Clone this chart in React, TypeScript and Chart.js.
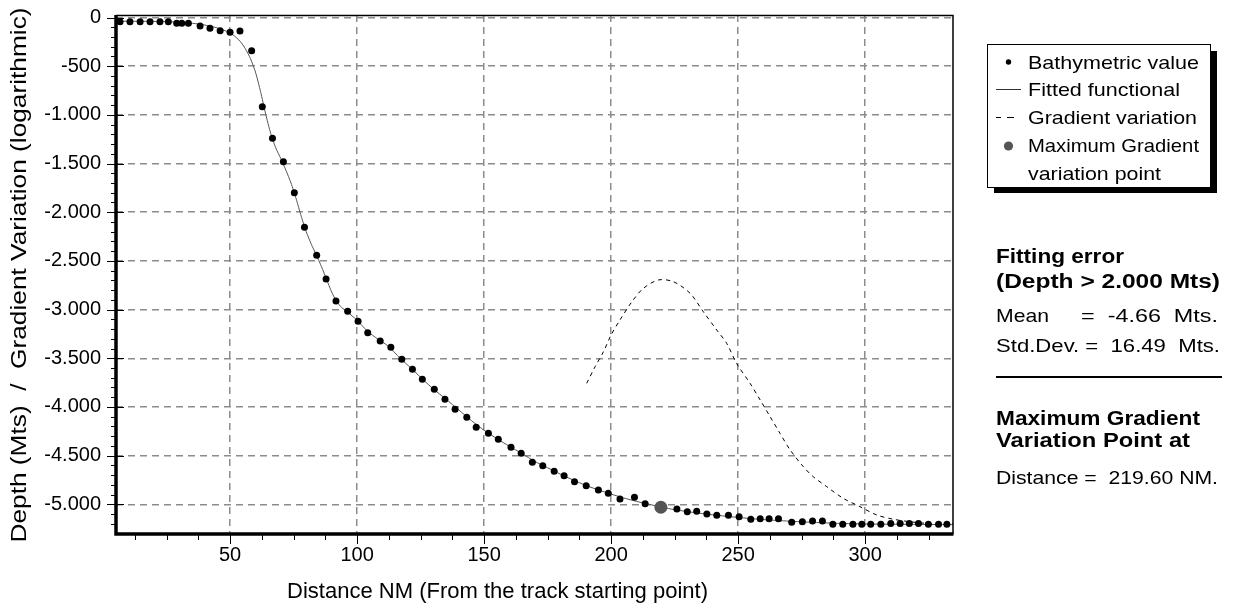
import React, { useEffect, useRef } from "react";
import { Chart, registerables } from "chart.js";

Chart.register(...registerables);

// ---------- data ----------
const bathyX = [6.7, 10.6, 14.6, 18.5, 22.4, 25.7, 29.0, 31.0, 33.6, 38.2, 42.1, 46.1, 50.0, 53.9, 58.5, 62.7, 66.7, 71.0, 75.3, 79.3, 84.1, 87.8, 91.7, 96.3, 100.4, 104.2, 109.1, 113.3, 117.6, 121.8, 125.7, 130.4, 134.6, 138.6, 143.2, 146.9, 151.7, 155.6, 160.6, 164.6, 169.0, 173.1, 177.6, 181.5, 185.6, 190.2, 195.0, 198.9, 203.5, 209.2, 213.4, 219.0, 225.9, 230.0, 233.7, 237.7, 241.6, 246.2, 250.4, 255.0, 258.7, 262.2, 265.9, 271.1, 275.3, 279.3, 283.2, 287.3, 291.2, 295.2, 298.7, 302.2, 306.2, 310.1, 313.8, 317.4, 321.0, 324.9, 328.9, 332.2];
const bathyY = [-43, -43, -43, -43, -43, -43, -60, -60, -60, -87, -111, -136, -152, -139, -341, -916, -1241, -1481, -1800, -2155, -2442, -2686, -2912, -3018, -3120, -3237, -3323, -3387, -3511, -3614, -3716, -3819, -3922, -4024, -4106, -4209, -4271, -4332, -4415, -4476, -4569, -4604, -4661, -4706, -4768, -4809, -4853, -4887, -4945, -4928, -4994, -5031, -5048, -5076, -5072, -5100, -5113, -5113, -5127, -5154, -5148, -5148, -5148, -5185, -5179, -5172, -5172, -5206, -5206, -5206, -5206, -5206, -5206, -5196, -5196, -5196, -5196, -5206, -5206, -5206];

const fitX = [5.1, 20, 30, 38, 44, 48, 51, 54, 56, 58, 60, 62, 64, 66, 68, 70, 72, 74, 76, 78, 80, 82, 84, 86, 88, 90, 92, 94, 96, 100, 104, 108, 112, 117, 122, 126, 130, 135, 140, 145, 150, 155, 160, 165, 170, 175, 180, 185, 190, 195, 200, 205, 210, 215, 220, 225, 230, 235, 240, 245, 250, 260, 270, 280, 290, 300, 315, 334.6];
const fitY = [-38, -40, -48, -68, -100, -135, -175, -245, -320, -420, -560, -760, -990, -1190, -1340, -1450, -1570, -1700, -1860, -2040, -2200, -2330, -2440, -2560, -2690, -2820, -2920, -2980, -3020, -3110, -3220, -3300, -3370, -3500, -3620, -3720, -3815, -3920, -4030, -4140, -4240, -4325, -4405, -4480, -4560, -4625, -4690, -4750, -4805, -4852, -4895, -4935, -4970, -5000, -5030, -5055, -5075, -5092, -5108, -5122, -5135, -5157, -5173, -5186, -5196, -5202, -5206, -5208];

const gradX = [190.4, 193.7, 197.0, 200.0, 203.5, 208.2, 212.7, 218.6, 224.5, 231.1, 236.3, 241.6, 245.5, 249.4, 254.7, 258.7, 262.6, 266.5, 270.5, 275.7, 279.6, 284.9, 291.4, 298.0, 304.6, 311.2, 317.7, 324.3, 334.6];
const gradY = [-3757, -3587, -3433, -3261, -3107, -2919, -2782, -2696, -2713, -2833, -3022, -3210, -3346, -3552, -3757, -3929, -4100, -4271, -4442, -4614, -4717, -4819, -4939, -5024, -5110, -5154, -5179, -5196, -5200];

const maxPointX = [219.6];
const maxPointY = [-5030];

const xTicks = [50, 100, 150, 200, 250, 300];
const yTicks = [0, -500, -1000, -1500, -2000, -2500, -3000, -3500, -4000, -4500, -5000];
const X_MIN = 5.1;
const X_MAX = 334.6;
const Y_MIN = -5305;
const Y_MAX = 25.7;

const xTitle = "Distance NM (From the track starting point)";
const yTitle = "Depth (Mts)  /  Gradient Variation (logarithmic)";
const legendLabels = ["Bathymetric value", "Fitted functional", "Gradient variation", "Maximum Gradient", "variation point"];
const fitTitle = ["Fitting error", "(Depth > 2.000 Mts)"];
const meanLabel = "Mean";
const meanRest = "=  -4.66  Mts.";
const stdLine = "Std.Dev. =  16.49  Mts.";
const maxTitle = ["Maximum Gradient", "Variation Point at"];
const distLine = "Distance =  219.60 NM.";

// ---------- helpers ----------
const FONT = "'Liberation Sans', Arial, sans-serif";

function fmt(v: number): string {
  const s = Math.abs(v).toString().replace(/\B(?=(\d{3})+(?!\d))/g, ".");
  return (v < 0 ? "-" : "") + s;
}

function fitText(ctx: CanvasRenderingContext2D, text: string, x: number, y: number, font: string, width: number | null, align: CanvasTextAlign = "left") {
  ctx.save();
  ctx.font = font;
  const w = ctx.measureText(text).width;
  const s = width ? width / w : 1;
  ctx.translate(x, y);
  ctx.scale(s, 1);
  ctx.textAlign = align;
  ctx.textBaseline = "alphabetic";
  ctx.fillStyle = "#000";
  ctx.fillText(text, 0, 0);
  ctx.restore();
}

const decorPlugin = {
  id: "decor",
  afterDraw(chart: any) {
    const ctx: CanvasRenderingContext2D = chart.ctx;
    const { left, right, top, bottom } = chart.chartArea;
    const xs = chart.scales.x;
    const ys = chart.scales.y;
    ctx.save();
    ctx.strokeStyle = "#000";
    ctx.lineWidth = 1;
    for (let v = 0; v >= -5300; v -= 100) {
      const py = Math.round(ys.getPixelForValue(v)) + 0.5;
      if (py < top || py > bottom) continue;
      const major = v % 500 === 0;
      ctx.beginPath();
      ctx.moveTo(major ? left - 9 : left - 5, py);
      ctx.lineTo(major ? left + 8 : left, py);
      ctx.stroke();
    }
    for (let v = 12.5; v <= X_MAX; v += 12.5) {
      const px = Math.round(xs.getPixelForValue(v)) + 0.5;
      if (px < left || px > right) continue;
      const major = v % 50 === 0;
      ctx.beginPath();
      ctx.moveTo(px, bottom);
      ctx.lineTo(px, major ? bottom + 10 : bottom + 6);
      ctx.stroke();
    }
    // frame
    ctx.lineWidth = 1.5;
    ctx.beginPath();
    ctx.moveTo(left, top + 0.5);
    ctx.lineTo(right, top + 0.5);
    ctx.lineTo(right, bottom);
    ctx.stroke();
    ctx.lineWidth = 3.5;
    ctx.beginPath();
    ctx.moveTo(left, top);
    ctx.lineTo(left, bottom);
    ctx.lineTo(right + 0.5, bottom);
    ctx.stroke();

    // axis titles
    fitText(ctx, xTitle, 497.5, 598, `22px ${FONT}`, 421, "center");
    ctx.save();
    ctx.translate(26, 275);
    ctx.rotate(-Math.PI / 2);
    fitText(ctx, yTitle, 0, 0, `22px ${FONT}`, 535, "center");
    ctx.restore();

    // legend box with shadow
    ctx.fillStyle = "#000";
    ctx.fillRect(1211, 51, 6, 142);
    ctx.fillRect(994, 188, 223, 5);
    ctx.fillStyle = "#fff";
    ctx.fillRect(987.5, 44.5, 223, 143);
    ctx.strokeStyle = "#000";
    ctx.lineWidth = 1;
    ctx.strokeRect(987.5, 44.5, 223, 143);

    // legend markers
    ctx.fillStyle = "#000";
    ctx.beginPath();
    ctx.arc(1008.5, 62, 2.7, 0, Math.PI * 2);
    ctx.fill();
    ctx.strokeStyle = "#333";
    ctx.lineWidth = 1;
    ctx.beginPath();
    ctx.moveTo(996, 89.5);
    ctx.lineTo(1021, 89.5);
    ctx.stroke();
    ctx.strokeStyle = "#000";
    ctx.beginPath();
    ctx.moveTo(996, 117.5);
    ctx.lineTo(1001, 117.5);
    ctx.moveTo(1007, 117.5);
    ctx.lineTo(1014, 117.5);
    ctx.stroke();
    ctx.fillStyle = "#555";
    ctx.beginPath();
    ctx.arc(1008.5, 146, 4.6, 0, Math.PI * 2);
    ctx.fill();

    const lf = `19px ${FONT}`;
    fitText(ctx, legendLabels[0], 1028, 68.5, lf, 171);
    fitText(ctx, legendLabels[1], 1028, 96, lf, 152);
    fitText(ctx, legendLabels[2], 1028, 124, lf, 169);
    fitText(ctx, legendLabels[3], 1028, 152, lf, 171);
    fitText(ctx, legendLabels[4], 1028, 179.5, lf, 133);

    // fitting error panel
    const bf = `bold 20px ${FONT}`;
    const rf = `19px ${FONT}`;
    fitText(ctx, fitTitle[0], 996, 263, bf, 128);
    fitText(ctx, fitTitle[1], 996, 288, bf, 224);
    fitText(ctx, meanLabel, 996, 321.5, rf, 53);
    fitText(ctx, meanRest, 1081, 321.5, rf, 137);
    fitText(ctx, stdLine, 996, 351.5, rf, 224);

    ctx.fillStyle = "#000";
    ctx.fillRect(996, 376, 226, 2);

    fitText(ctx, maxTitle[0], 996, 425, bf, 204);
    fitText(ctx, maxTitle[1], 996, 447, bf, 194);
    fitText(ctx, distLine, 996, 484, rf, 222);
    ctx.restore();
  },
};

export default function App() {
  const ref = useRef<HTMLCanvasElement | null>(null);
  useEffect(() => {
    if (!ref.current) return;
    const chart = new Chart(ref.current, {
      type: "scatter",
      data: {
        datasets: [
          {
            label: "Maximum Gradient variation point",
            data: maxPointX.map((x, i) => ({ x, y: maxPointY[i] })),
            pointRadius: 6.5,
            backgroundColor: "#555",
            borderColor: "#555",
            borderWidth: 0,
            showLine: false,
            order: 0,
          },
          {
            label: "Bathymetric value",
            data: bathyX.map((x, i) => ({ x, y: bathyY[i] })),
            pointRadius: 3.5,
            backgroundColor: "#000",
            borderColor: "#000",
            borderWidth: 0,
            showLine: false,
            order: 1,
          },
          {
            label: "Fitted functional",
            data: fitX.map((x, i) => ({ x, y: fitY[i] })),
            showLine: true,
            pointRadius: 0,
            borderColor: "#555",
            borderWidth: 1,
            tension: 0.2,
            order: 2,
          },
          {
            label: "Gradient variation",
            data: gradX.map((x, i) => ({ x, y: gradY[i] })),
            showLine: true,
            pointRadius: 0,
            borderColor: "#000",
            borderWidth: 1,
            borderDash: [4, 4],
            tension: 0.3,
            order: 3,
          },
        ],
      },
      options: {
        responsive: false,
        animation: false,
        events: [],
        layout: { padding: { left: 0, top: 15, right: 284, bottom: 0 } },
        plugins: { legend: { display: false }, tooltip: { enabled: false } },
        scales: {
          x: {
            type: "linear",
            min: X_MIN,
            max: X_MAX,
            afterBuildTicks: (s: any) => {
              s.ticks = xTicks.map((v) => ({ value: v }));
            },
            afterFit: (s: any) => {
              s.height = 77;
              s.paddingLeft = 0;
              s.paddingRight = 0;
            },
            grid: { color: "#8c8c8c", lineWidth: 1.5, drawTicks: false },
            border: { display: false, dash: [7, 5] },
            ticks: {
              color: "#000",
              font: { family: FONT, size: 20 },
              padding: 9,
              maxRotation: 0,
              autoSkip: false,
            },
          },
          y: {
            type: "linear",
            min: Y_MIN,
            max: Y_MAX,
            afterBuildTicks: (s: any) => {
              s.ticks = yTicks.map((v) => ({ value: v }));
            },
            afterFit: (s: any) => {
              s.width = 116;
              s.paddingTop = 0;
              s.paddingBottom = 0;
            },
            grid: { color: "#8c8c8c", lineWidth: 1.5, drawTicks: false },
            border: { display: false, dash: [7, 5] },
            ticks: {
              color: "#000",
              font: { family: FONT, size: 20 },
              padding: 15,
              autoSkip: false,
              callback: (v: any) => fmt(Number(v)),
            },
          },
        },
      },
      plugins: [decorPlugin],
    });
    return () => chart.destroy();
  }, []);

  return (
    <div style={{ position: "fixed", left: 0, top: 0, width: 1237, height: 611, background: "#fff" }}>
      <canvas ref={ref} width={1237} height={611} style={{ display: "block" }} />
    </div>
  );
}
